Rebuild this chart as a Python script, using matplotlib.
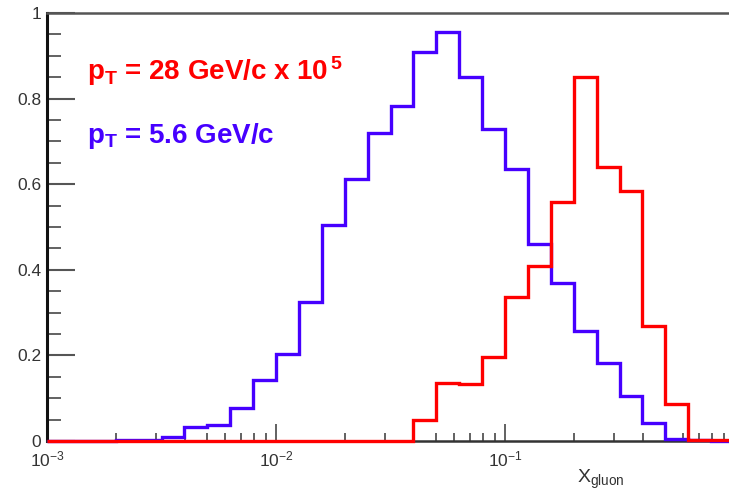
import numpy as np
import matplotlib
matplotlib.use("Agg")
import matplotlib.pyplot as plt
from matplotlib.ticker import FixedLocator, LogLocator, NullFormatter, MultipleLocator

plt.rcParams['font.family'] = ['Liberation Sans', 'DejaVu Sans']
plt.rcParams['mathtext.fontset'] = 'custom'
plt.rcParams['mathtext.rm'] = 'Liberation Sans'
plt.rcParams['mathtext.bf'] = 'Liberation Sans:bold'
plt.rcParams['mathtext.it'] = 'Liberation Sans:italic'

# log10 bin edges: 10 bins per decade from 1e-3 to 1
log_edges = np.arange(-3.0, 0.0001, 0.1)
blue_vals = [0, 0, 0, 0.003, 0.003, 0.010, 0.033, 0.037, 0.076, 0.143,
             0.203, 0.324, 0.505, 0.611, 0.719, 0.783, 0.908, 0.955, 0.851, 0.728,
             0.635, 0.460, 0.368, 0.258, 0.183, 0.105, 0.043, 0.004, 0.002, 0.0]
red_vals = [0, 0, 0, 0, 0, 0, 0, 0, 0, 0,
            0, 0, 0, 0, 0, 0, 0.049, 0.136, 0.133, 0.197,
            0.337, 0.409, 0.558, 0.851, 0.641, 0.584, 0.269, 0.086, 0.002, 0.002]
y_ticks = [0, 0.2, 0.4, 0.6, 0.8, 1]
y_tick_labels = ['0', '0.2', '0.4', '0.6', '0.8', '1']
x_major = [1e-3, 1e-2, 1e-1]
x_tick_labels = [r'$10^{-3}$', r'$10^{-2}$', r'$10^{-1}$']

edges = 10 ** log_edges

W, H = 729, 490
fig = plt.figure(figsize=(W / 100, H / 100), dpi=100)
left, right, bottom, top = 47, 734, 441, 13
ax = fig.add_axes([left / W, (H - bottom) / H, (right - left) / W, (bottom - top) / H])
ax.set_xscale('log')
ax.set_xlim(1e-3, 1.0)
ax.set_ylim(0, 1.0)

blue = '#4600ff'
red = '#ff0000'
ax.stairs(blue_vals, edges, baseline=None, color=blue, lw=2.4, zorder=3, clip_on=False)
ax.stairs(red_vals, edges, baseline=None, color=red, lw=2.4, zorder=4, clip_on=False)

ax.spines['left'].set_linewidth(2.2)
ax.spines['left'].set_color('#111111')
ax.spines['bottom'].set_linewidth(1.8)
ax.spines['bottom'].set_color('#333333')
ax.spines['top'].set_linewidth(1.8)
ax.spines['top'].set_color('#555555')
ax.spines['right'].set_visible(False)

ax.yaxis.set_major_locator(FixedLocator(y_ticks))
ax.set_yticklabels(y_tick_labels)
ax.yaxis.set_minor_locator(MultipleLocator(0.05))
ax.xaxis.set_major_locator(FixedLocator(x_major))
ax.set_xticklabels(x_tick_labels)
ax.xaxis.set_minor_locator(LogLocator(base=10, subs=np.arange(2, 10), numticks=20))
ax.xaxis.set_minor_formatter(NullFormatter())

ax.tick_params(axis='y', which='major', direction='in', length=20, width=1.5, color='#555555',
               labelsize=12.5, labelcolor='#333333', pad=4, right=False)
ax.tick_params(axis='y', which='minor', direction='in', length=10, width=1.3, color='#555555', right=False)
ax.tick_params(axis='x', which='major', direction='in', length=12, width=1.3, color='#555555',
               labelsize=12.5, labelcolor='#333333', pad=6, top=False)
ax.tick_params(axis='x', which='minor', direction='in', length=6, width=1.3, color='#555555', top=False)

fig.text(577 / W, (H - 483) / H, r'X$_{\mathrm{gluon}}$', fontsize=14, color='#333333',
         va='baseline', ha='left')

fig.text(87 / W, (H - 80) / H, r'$\mathbf{p}_{\mathbf{T}}$' + ' = 28 GeV/c x 10' + r'$^{\,\mathbf{5}}$',
         fontsize=20, fontweight='bold', color=red, va='baseline', ha='left')
fig.text(87 / W, (H - 143) / H, r'$\mathbf{p}_{\mathbf{T}}$' + ' = 5.6 GeV/c',
         fontsize=20, fontweight='bold', color=blue, va='baseline', ha='left')

fig.savefig('out.png', dpi=100)
